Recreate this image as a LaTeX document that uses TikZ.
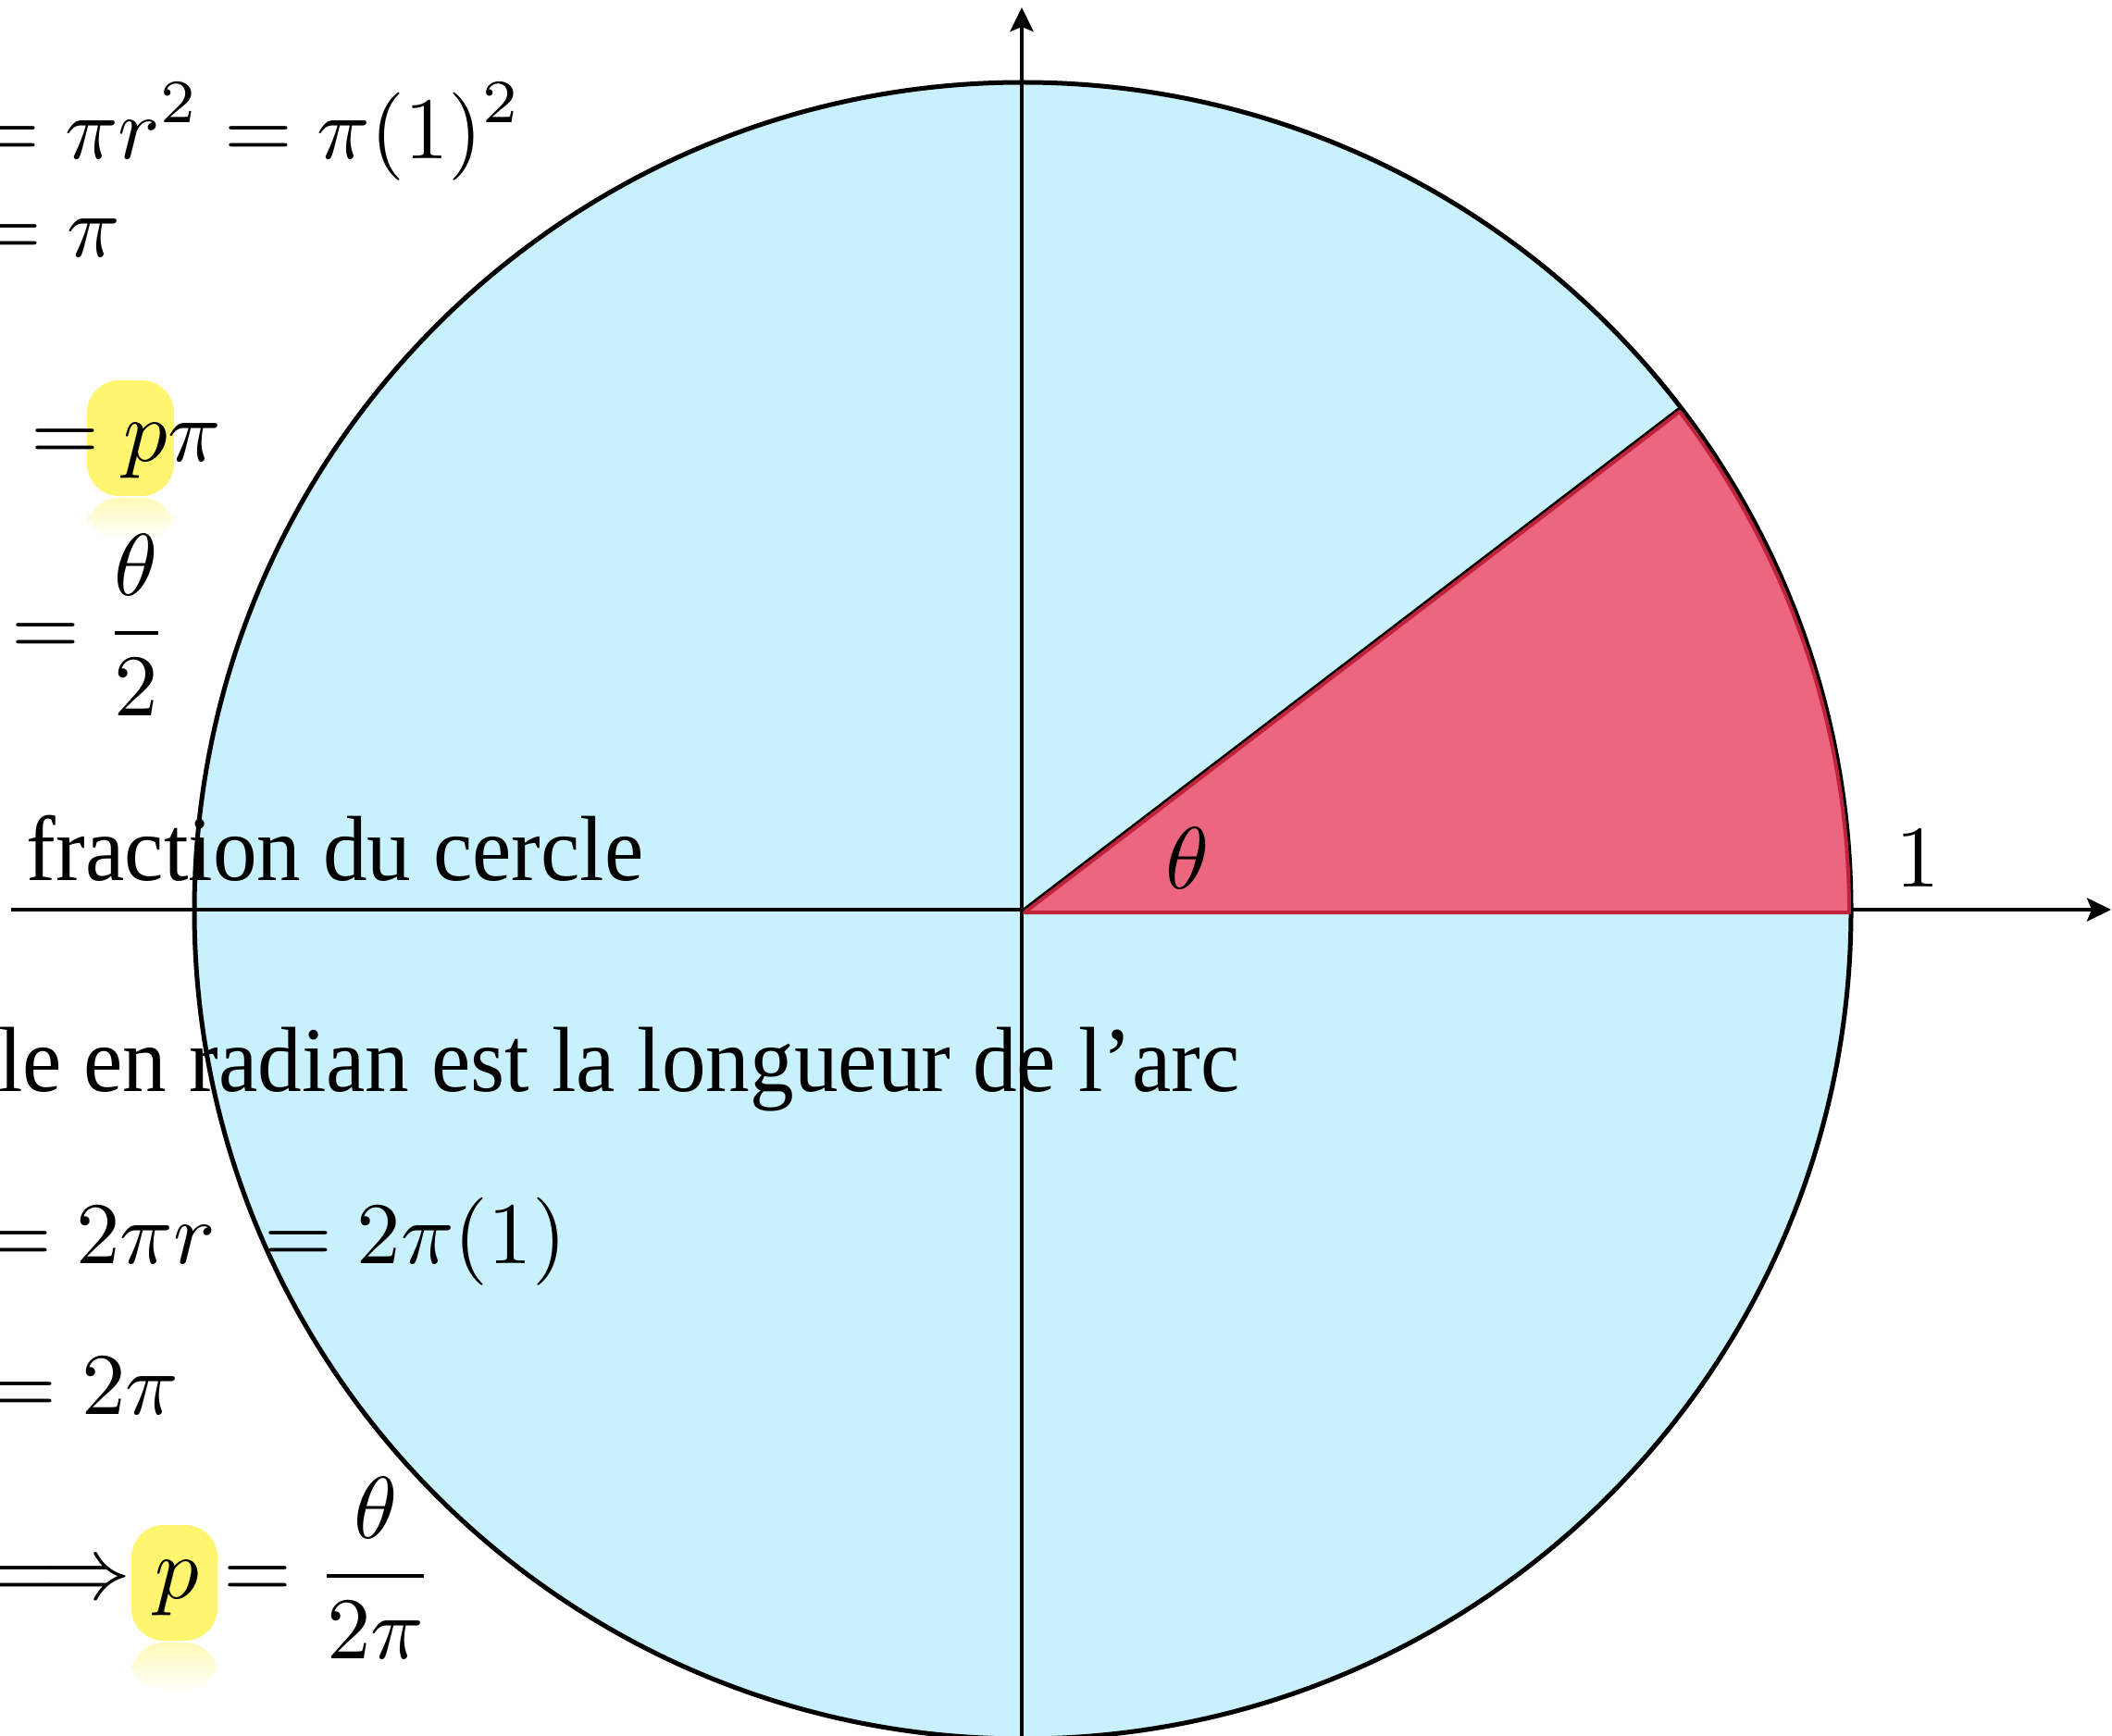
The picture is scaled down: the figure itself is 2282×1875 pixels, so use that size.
\documentclass[tikz,border=0pt]{standalone}
\usepackage[no-math]{fontspec}
\setmainfont{Liberation Serif}
\usetikzlibrary{arrows.meta,calc}
\definecolor{diskblue}{RGB}{201,240,253}
\definecolor{sectorfill}{RGB}{237,102,128}
\definecolor{sectoredge}{RGB}{190,35,60}
\definecolor{hl}{RGB}{255,245,110}
\newcommand{\eqbox}[1]{\scalebox{0.95}{$\displaystyle #1$}}
\newcommand{\txtbox}[1]{\scalebox{0.953}[1]{#1}}
\begin{document}
\begin{tikzpicture}[x=0.1pt,y=0.1pt,
  eq/.style={font=\fontsize{10}{12}\selectfont, inner sep=0pt, outer sep=0pt, anchor=base west},
  txt/.style={font=\fontsize{10}{12}\selectfont, inner sep=0pt, outer sep=0pt, anchor=base west},
  lbl/.style={font=\fontsize{10}{12}\selectfont, inner sep=0pt, outer sep=0pt, anchor=base},
  axisline/.style={line width=0.45pt, -{Stealth[length=2.6pt,width=2.5pt,inset=0.5pt]}},
  disk/.style={fill=diskblue, draw=black, line width=0.5pt},
  sector/.style={fill=sectorfill, draw=sectoredge, line width=0.4pt, line join=round},
  hlbox/.style={fill=hl, rounded corners=3.5pt},
  hlrefl/.style={top color=hl!50, bottom color=white, rounded corners=3.5pt},
]
\clip (0,0) rectangle (2282,-1875);
\fill[white] (0,0) rectangle (2282,-1875);
% disk
\coordinate (O) at (1105,-984);
\path[disk] (O) circle[radius=895];
% axes
\coordinate (xs) at (12,-983);
\coordinate (xe) at (2281,-983);
\coordinate (ys) at (1104,-1885);
\coordinate (ye) at (1104,-8);
\draw[axisline] (xs) -- (xe);
\draw[axisline] (ys) -- (ye);
% radius
\coordinate (P) at ($(O)+(37.4:895)$);
\draw[line width=0.35pt] (O) -- (P);
% sector
\coordinate (S) at (1107,-986);
\path[sector] (S) -- ++(0:891) arc[start angle=0, end angle=37.4, radius=891] -- cycle;
% labels on the figure
\node[lbl] (theta) at (1283,-960) {\eqbox{\theta}};
\node[lbl] (one) at (2072,-958) {\eqbox{1}};
% highlights
\path[hlrefl] (94,-538) rectangle (188,-584);
\path[hlbox] (94,-411) rectangle (188,-536);
\path[hlrefl] (142,-1775) rectangle (235,-1828);
\path[hlbox] (142,-1648) rectangle (235,-1773);
% text lines
\node[eq] (l1) at (-30,-172) {\eqbox{= \pi r^2 = \pi(1)^2}};
\node[eq] (l2) at (-28,-278) {\eqbox{= \pi}};
\node[eq] (l3) at (33,-498) {\eqbox{= p\pi}};
\node[eq] (l4) at (12,-708) {\eqbox{= \frac{\theta}{2}}};
\node[txt] (l5) at (29,-951) {\txtbox{fraction du cercle}};
\node[txt] (l6) at (-2,-1179) {\txtbox{le en radian est la longueur de l'arc}};
\node[eq] (l7) at (-18,-1365) {\eqbox{= 2\pi r\; = 2\pi(1)}};
\node[eq] (l8) at (-12,-1528) {\eqbox{= 2\pi}};
\node[eq] (l9) at (-12,-1727) {\eqbox{\Longrightarrow p = \frac{\theta}{2\pi}}};
\end{tikzpicture}
\end{document}
